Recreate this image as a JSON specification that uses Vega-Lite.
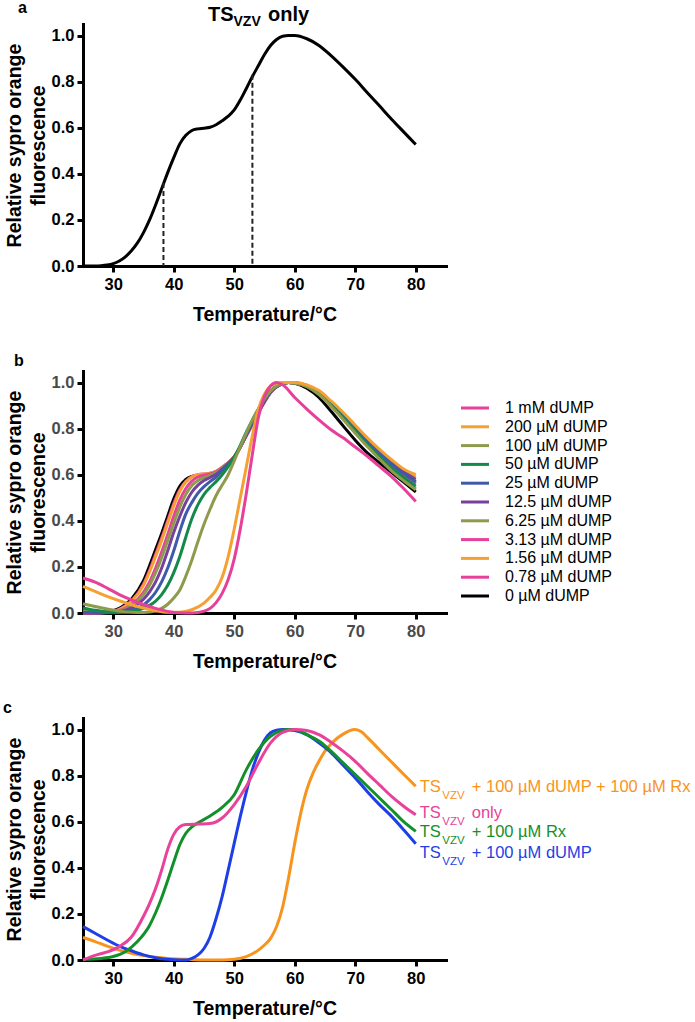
{
  "$schema": "https://vega.github.io/schema/vega-lite/v6.json",
  "padding": {"left": 3, "top": 0, "right": 5, "bottom": 5},
  "spacing": 105,
  "bounds": "flush",
  "config": {
    "view": {"stroke": null},
    "font": "Liberation Sans",
    "axis": {"domainColor": "black", "domainWidth": 3, "domainCap": "square", "tickColor": "black", "tickWidth": 3, "tickSize": 6, "grid": false,
      "labelFont": "Liberation Sans", "labelFontWeight": "bold", "labelFontSize": 16.5, "labelColor": "black", "labelPadding": 3,
      "titleFont": "Liberation Sans", "titleFontWeight": "bold", "titleFontSize": 19.5, "titleColor": "black"},
    "title": {"font": "Liberation Sans", "fontSize": 16, "fontWeight": "bold", "color": "black", "anchor": "start", "frame": "group"}
  },
  "resolve": {"scale": {"color": "independent"}, "legend": {"color": "independent"}},
  "datasets": {
    "a": [
      {"T":25,"v":0},{"T":26,"v":0},{"T":27,"v":0},{"T":28,"v":0.001},{"T":29,"v":0.004},{"T":30,"v":0.01},{"T":31,"v":0.022},{"T":32,"v":0.04},{"T":33,"v":0.066},{"T":34,"v":0.1},{"T":35,"v":0.145},{"T":36,"v":0.2},{"T":37,"v":0.265},{"T":38,"v":0.335},{"T":39,"v":0.405},{"T":40,"v":0.47},{"T":41,"v":0.53},{"T":42,"v":0.567},{"T":43,"v":0.588},{"T":44,"v":0.595},{"T":45,"v":0.598},{"T":46,"v":0.602},{"T":47,"v":0.613},{"T":48,"v":0.63},{"T":49,"v":0.65},{"T":50,"v":0.677},{"T":51,"v":0.72},{"T":52,"v":0.77},{"T":53,"v":0.822},{"T":54,"v":0.87},{"T":55,"v":0.918},{"T":56,"v":0.957},{"T":57,"v":0.983},{"T":58,"v":0.997},{"T":59,"v":1.0},{"T":60,"v":1.0},{"T":62,"v":0.986},{"T":64,"v":0.957},{"T":66,"v":0.913},{"T":68,"v":0.863},{"T":70,"v":0.81},{"T":72,"v":0.752},{"T":74,"v":0.695},{"T":76,"v":0.637},{"T":78,"v":0.582},{"T":80,"v":0.527}
    ],
    "adash": [{"T":38.3,"v":0.36},{"T":53,"v":0.83}],
    "atitle": [{"main":"TS","sub":"VZV","rest":"only"}],
    "b": [
      {"s":"0 µM dUMP","T":25,"v":0},{"s":"0 µM dUMP","T":27,"v":0},{"s":"0 µM dUMP","T":29,"v":0.004},{"s":"0 µM dUMP","T":31,"v":0.02},{"s":"0 µM dUMP","T":33,"v":0.06},{"s":"0 µM dUMP","T":35,"v":0.14},{"s":"0 µM dUMP","T":36,"v":0.205},{"s":"0 µM dUMP","T":37,"v":0.275},{"s":"0 µM dUMP","T":38,"v":0.345},{"s":"0 µM dUMP","T":39,"v":0.42},{"s":"0 µM dUMP","T":40,"v":0.495},{"s":"0 µM dUMP","T":41,"v":0.55},{"s":"0 µM dUMP","T":42,"v":0.58},{"s":"0 µM dUMP","T":43,"v":0.593},{"s":"0 µM dUMP","T":44,"v":0.598},{"s":"0 µM dUMP","T":46,"v":0.603},{"s":"0 µM dUMP","T":47,"v":0.613},{"s":"0 µM dUMP","T":48,"v":0.63},{"s":"0 µM dUMP","T":49,"v":0.65},{"s":"0 µM dUMP","T":50,"v":0.677},{"s":"0 µM dUMP","T":52,"v":0.77},{"s":"0 µM dUMP","T":54,"v":0.87},{"s":"0 µM dUMP","T":56,"v":0.957},{"s":"0 µM dUMP","T":58,"v":0.995},{"s":"0 µM dUMP","T":59,"v":1.0},{"s":"0 µM dUMP","T":60,"v":0.997},{"s":"0 µM dUMP","T":62,"v":0.975},{"s":"0 µM dUMP","T":64,"v":0.935},{"s":"0 µM dUMP","T":66,"v":0.875},{"s":"0 µM dUMP","T":68,"v":0.812},{"s":"0 µM dUMP","T":70,"v":0.75},{"s":"0 µM dUMP","T":72,"v":0.695},{"s":"0 µM dUMP","T":74,"v":0.652},{"s":"0 µM dUMP","T":76,"v":0.61},{"s":"0 µM dUMP","T":78,"v":0.568},{"s":"0 µM dUMP","T":80,"v":0.525},

      {"s":"0.78 µM dUMP","T":25,"v":0},{"s":"0.78 µM dUMP","T":27,"v":0},{"s":"0.78 µM dUMP","T":29,"v":0.003},{"s":"0.78 µM dUMP","T":31,"v":0.016},{"s":"0.78 µM dUMP","T":33,"v":0.052},{"s":"0.78 µM dUMP","T":35,"v":0.125},{"s":"0.78 µM dUMP","T":36,"v":0.185},{"s":"0.78 µM dUMP","T":37,"v":0.255},{"s":"0.78 µM dUMP","T":38,"v":0.325},{"s":"0.78 µM dUMP","T":39,"v":0.4},{"s":"0.78 µM dUMP","T":40,"v":0.475},{"s":"0.78 µM dUMP","T":41,"v":0.535},{"s":"0.78 µM dUMP","T":42,"v":0.572},{"s":"0.78 µM dUMP","T":43,"v":0.592},{"s":"0.78 µM dUMP","T":44,"v":0.6},{"s":"0.78 µM dUMP","T":46,"v":0.606},{"s":"0.78 µM dUMP","T":47,"v":0.615},{"s":"0.78 µM dUMP","T":48,"v":0.632},{"s":"0.78 µM dUMP","T":49,"v":0.652},{"s":"0.78 µM dUMP","T":50,"v":0.678},{"s":"0.78 µM dUMP","T":52,"v":0.77},{"s":"0.78 µM dUMP","T":54,"v":0.87},{"s":"0.78 µM dUMP","T":56,"v":0.957},{"s":"0.78 µM dUMP","T":58,"v":0.996},{"s":"0.78 µM dUMP","T":59,"v":1.0},{"s":"0.78 µM dUMP","T":60,"v":0.998},{"s":"0.78 µM dUMP","T":62,"v":0.985},{"s":"0.78 µM dUMP","T":64,"v":0.955},{"s":"0.78 µM dUMP","T":66,"v":0.907},{"s":"0.78 µM dUMP","T":68,"v":0.854},{"s":"0.78 µM dUMP","T":70,"v":0.796},{"s":"0.78 µM dUMP","T":72,"v":0.74},{"s":"0.78 µM dUMP","T":74,"v":0.688},{"s":"0.78 µM dUMP","T":76,"v":0.639},{"s":"0.78 µM dUMP","T":78,"v":0.597},{"s":"0.78 µM dUMP","T":80,"v":0.56},

      {"s":"1.56 µM dUMP","T":25,"v":0},{"s":"1.56 µM dUMP","T":27,"v":0},{"s":"1.56 µM dUMP","T":29,"v":0.003},{"s":"1.56 µM dUMP","T":31,"v":0.015},{"s":"1.56 µM dUMP","T":33,"v":0.05},{"s":"1.56 µM dUMP","T":35,"v":0.12},{"s":"1.56 µM dUMP","T":36,"v":0.178},{"s":"1.56 µM dUMP","T":37,"v":0.245},{"s":"1.56 µM dUMP","T":38,"v":0.315},{"s":"1.56 µM dUMP","T":39,"v":0.39},{"s":"1.56 µM dUMP","T":40,"v":0.465},{"s":"1.56 µM dUMP","T":41,"v":0.528},{"s":"1.56 µM dUMP","T":42,"v":0.568},{"s":"1.56 µM dUMP","T":43,"v":0.59},{"s":"1.56 µM dUMP","T":44,"v":0.6},{"s":"1.56 µM dUMP","T":46,"v":0.606},{"s":"1.56 µM dUMP","T":47,"v":0.615},{"s":"1.56 µM dUMP","T":48,"v":0.632},{"s":"1.56 µM dUMP","T":49,"v":0.652},{"s":"1.56 µM dUMP","T":50,"v":0.678},{"s":"1.56 µM dUMP","T":52,"v":0.77},{"s":"1.56 µM dUMP","T":54,"v":0.87},{"s":"1.56 µM dUMP","T":56,"v":0.957},{"s":"1.56 µM dUMP","T":58,"v":0.996},{"s":"1.56 µM dUMP","T":59,"v":1.0},{"s":"1.56 µM dUMP","T":60,"v":0.999},{"s":"1.56 µM dUMP","T":62,"v":0.988},{"s":"1.56 µM dUMP","T":64,"v":0.96},{"s":"1.56 µM dUMP","T":66,"v":0.915},{"s":"1.56 µM dUMP","T":68,"v":0.865},{"s":"1.56 µM dUMP","T":70,"v":0.81},{"s":"1.56 µM dUMP","T":72,"v":0.755},{"s":"1.56 µM dUMP","T":74,"v":0.705},{"s":"1.56 µM dUMP","T":76,"v":0.66},{"s":"1.56 µM dUMP","T":78,"v":0.622},{"s":"1.56 µM dUMP","T":80,"v":0.59},

      {"s":"3.13 µM dUMP","T":25,"v":0},{"s":"3.13 µM dUMP","T":27,"v":0},{"s":"3.13 µM dUMP","T":29,"v":0.002},{"s":"3.13 µM dUMP","T":31,"v":0.01},{"s":"3.13 µM dUMP","T":33,"v":0.035},{"s":"3.13 µM dUMP","T":35,"v":0.09},{"s":"3.13 µM dUMP","T":36,"v":0.135},{"s":"3.13 µM dUMP","T":37,"v":0.195},{"s":"3.13 µM dUMP","T":38,"v":0.265},{"s":"3.13 µM dUMP","T":39,"v":0.34},{"s":"3.13 µM dUMP","T":40,"v":0.42},{"s":"3.13 µM dUMP","T":41,"v":0.49},{"s":"3.13 µM dUMP","T":42,"v":0.54},{"s":"3.13 µM dUMP","T":43,"v":0.572},{"s":"3.13 µM dUMP","T":44,"v":0.59},{"s":"3.13 µM dUMP","T":45,"v":0.598},{"s":"3.13 µM dUMP","T":46,"v":0.603},{"s":"3.13 µM dUMP","T":47,"v":0.613},{"s":"3.13 µM dUMP","T":48,"v":0.63},{"s":"3.13 µM dUMP","T":49,"v":0.651},{"s":"3.13 µM dUMP","T":50,"v":0.677},{"s":"3.13 µM dUMP","T":52,"v":0.77},{"s":"3.13 µM dUMP","T":54,"v":0.87},{"s":"3.13 µM dUMP","T":56,"v":0.957},{"s":"3.13 µM dUMP","T":58,"v":0.996},{"s":"3.13 µM dUMP","T":59,"v":1.0},{"s":"3.13 µM dUMP","T":60,"v":0.998},{"s":"3.13 µM dUMP","T":62,"v":0.985},{"s":"3.13 µM dUMP","T":64,"v":0.956},{"s":"3.13 µM dUMP","T":66,"v":0.908},{"s":"3.13 µM dUMP","T":68,"v":0.856},{"s":"3.13 µM dUMP","T":70,"v":0.798},{"s":"3.13 µM dUMP","T":72,"v":0.742},{"s":"3.13 µM dUMP","T":74,"v":0.69},{"s":"3.13 µM dUMP","T":76,"v":0.642},{"s":"3.13 µM dUMP","T":78,"v":0.6},{"s":"3.13 µM dUMP","T":80,"v":0.565},

      {"s":"6.25 µM dUMP","T":25,"v":0.01},{"s":"6.25 µM dUMP","T":27,"v":0.005},{"s":"6.25 µM dUMP","T":29,"v":0.003},{"s":"6.25 µM dUMP","T":31,"v":0.008},{"s":"6.25 µM dUMP","T":33,"v":0.03},{"s":"6.25 µM dUMP","T":35,"v":0.08},{"s":"6.25 µM dUMP","T":36,"v":0.12},{"s":"6.25 µM dUMP","T":37,"v":0.175},{"s":"6.25 µM dUMP","T":38,"v":0.24},{"s":"6.25 µM dUMP","T":39,"v":0.315},{"s":"6.25 µM dUMP","T":40,"v":0.39},{"s":"6.25 µM dUMP","T":41,"v":0.46},{"s":"6.25 µM dUMP","T":42,"v":0.515},{"s":"6.25 µM dUMP","T":43,"v":0.553},{"s":"6.25 µM dUMP","T":44,"v":0.575},{"s":"6.25 µM dUMP","T":45,"v":0.588},{"s":"6.25 µM dUMP","T":46,"v":0.597},{"s":"6.25 µM dUMP","T":47,"v":0.609},{"s":"6.25 µM dUMP","T":48,"v":0.628},{"s":"6.25 µM dUMP","T":49,"v":0.65},{"s":"6.25 µM dUMP","T":50,"v":0.677},{"s":"6.25 µM dUMP","T":52,"v":0.772},{"s":"6.25 µM dUMP","T":54,"v":0.872},{"s":"6.25 µM dUMP","T":56,"v":0.958},{"s":"6.25 µM dUMP","T":58,"v":0.996},{"s":"6.25 µM dUMP","T":59,"v":1.0},{"s":"6.25 µM dUMP","T":60,"v":0.998},{"s":"6.25 µM dUMP","T":62,"v":0.983},{"s":"6.25 µM dUMP","T":64,"v":0.95},{"s":"6.25 µM dUMP","T":66,"v":0.9},{"s":"6.25 µM dUMP","T":68,"v":0.845},{"s":"6.25 µM dUMP","T":70,"v":0.786},{"s":"6.25 µM dUMP","T":72,"v":0.728},{"s":"6.25 µM dUMP","T":74,"v":0.674},{"s":"6.25 µM dUMP","T":76,"v":0.623},{"s":"6.25 µM dUMP","T":78,"v":0.58},{"s":"6.25 µM dUMP","T":80,"v":0.54},

      {"s":"12.5 µM dUMP","T":25,"v":0},{"s":"12.5 µM dUMP","T":27,"v":0},{"s":"12.5 µM dUMP","T":29,"v":0.002},{"s":"12.5 µM dUMP","T":31,"v":0.006},{"s":"12.5 µM dUMP","T":33,"v":0.022},{"s":"12.5 µM dUMP","T":35,"v":0.06},{"s":"12.5 µM dUMP","T":36,"v":0.092},{"s":"12.5 µM dUMP","T":37,"v":0.135},{"s":"12.5 µM dUMP","T":38,"v":0.195},{"s":"12.5 µM dUMP","T":39,"v":0.27},{"s":"12.5 µM dUMP","T":40,"v":0.35},{"s":"12.5 µM dUMP","T":41,"v":0.42},{"s":"12.5 µM dUMP","T":42,"v":0.48},{"s":"12.5 µM dUMP","T":43,"v":0.525},{"s":"12.5 µM dUMP","T":44,"v":0.555},{"s":"12.5 µM dUMP","T":45,"v":0.575},{"s":"12.5 µM dUMP","T":46,"v":0.588},{"s":"12.5 µM dUMP","T":47,"v":0.602},{"s":"12.5 µM dUMP","T":48,"v":0.624},{"s":"12.5 µM dUMP","T":49,"v":0.648},{"s":"12.5 µM dUMP","T":50,"v":0.676},{"s":"12.5 µM dUMP","T":52,"v":0.772},{"s":"12.5 µM dUMP","T":54,"v":0.872},{"s":"12.5 µM dUMP","T":56,"v":0.958},{"s":"12.5 µM dUMP","T":58,"v":0.996},{"s":"12.5 µM dUMP","T":59,"v":1.0},{"s":"12.5 µM dUMP","T":60,"v":0.999},{"s":"12.5 µM dUMP","T":62,"v":0.987},{"s":"12.5 µM dUMP","T":64,"v":0.958},{"s":"12.5 µM dUMP","T":66,"v":0.913},{"s":"12.5 µM dUMP","T":68,"v":0.862},{"s":"12.5 µM dUMP","T":70,"v":0.805},{"s":"12.5 µM dUMP","T":72,"v":0.75},{"s":"12.5 µM dUMP","T":74,"v":0.7},{"s":"12.5 µM dUMP","T":76,"v":0.653},{"s":"12.5 µM dUMP","T":78,"v":0.613},{"s":"12.5 µM dUMP","T":80,"v":0.58},

      {"s":"25 µM dUMP","T":25,"v":0.003},{"s":"25 µM dUMP","T":27,"v":0.001},{"s":"25 µM dUMP","T":29,"v":0.001},{"s":"25 µM dUMP","T":31,"v":0.003},{"s":"25 µM dUMP","T":33,"v":0.012},{"s":"25 µM dUMP","T":35,"v":0.035},{"s":"25 µM dUMP","T":36,"v":0.058},{"s":"25 µM dUMP","T":37,"v":0.09},{"s":"25 µM dUMP","T":38,"v":0.135},{"s":"25 µM dUMP","T":39,"v":0.195},{"s":"25 µM dUMP","T":40,"v":0.27},{"s":"25 µM dUMP","T":41,"v":0.355},{"s":"25 µM dUMP","T":42,"v":0.43},{"s":"25 µM dUMP","T":43,"v":0.48},{"s":"25 µM dUMP","T":44,"v":0.52},{"s":"25 µM dUMP","T":45,"v":0.548},{"s":"25 µM dUMP","T":46,"v":0.57},{"s":"25 µM dUMP","T":47,"v":0.59},{"s":"25 µM dUMP","T":48,"v":0.617},{"s":"25 µM dUMP","T":49,"v":0.645},{"s":"25 µM dUMP","T":50,"v":0.676},{"s":"25 µM dUMP","T":52,"v":0.775},{"s":"25 µM dUMP","T":54,"v":0.876},{"s":"25 µM dUMP","T":56,"v":0.96},{"s":"25 µM dUMP","T":58,"v":0.996},{"s":"25 µM dUMP","T":59,"v":1.0},{"s":"25 µM dUMP","T":60,"v":0.999},{"s":"25 µM dUMP","T":62,"v":0.986},{"s":"25 µM dUMP","T":64,"v":0.957},{"s":"25 µM dUMP","T":66,"v":0.91},{"s":"25 µM dUMP","T":68,"v":0.858},{"s":"25 µM dUMP","T":70,"v":0.8},{"s":"25 µM dUMP","T":72,"v":0.745},{"s":"25 µM dUMP","T":74,"v":0.694},{"s":"25 µM dUMP","T":76,"v":0.646},{"s":"25 µM dUMP","T":78,"v":0.605},{"s":"25 µM dUMP","T":80,"v":0.57},

      {"s":"50 µM dUMP","T":25,"v":0.022},{"s":"50 µM dUMP","T":27,"v":0.012},{"s":"50 µM dUMP","T":29,"v":0.005},{"s":"50 µM dUMP","T":31,"v":0.003},{"s":"50 µM dUMP","T":33,"v":0.007},{"s":"50 µM dUMP","T":35,"v":0.02},{"s":"50 µM dUMP","T":36,"v":0.033},{"s":"50 µM dUMP","T":37,"v":0.052},{"s":"50 µM dUMP","T":38,"v":0.08},{"s":"50 µM dUMP","T":39,"v":0.12},{"s":"50 µM dUMP","T":40,"v":0.175},{"s":"50 µM dUMP","T":41,"v":0.245},{"s":"50 µM dUMP","T":42,"v":0.33},{"s":"50 µM dUMP","T":43,"v":0.41},{"s":"50 µM dUMP","T":44,"v":0.47},{"s":"50 µM dUMP","T":45,"v":0.515},{"s":"50 µM dUMP","T":46,"v":0.545},{"s":"50 µM dUMP","T":47,"v":0.57},{"s":"50 µM dUMP","T":48,"v":0.6},{"s":"50 µM dUMP","T":49,"v":0.635},{"s":"50 µM dUMP","T":50,"v":0.675},{"s":"50 µM dUMP","T":52,"v":0.785},{"s":"50 µM dUMP","T":54,"v":0.885},{"s":"50 µM dUMP","T":56,"v":0.963},{"s":"50 µM dUMP","T":58,"v":0.997},{"s":"50 µM dUMP","T":59,"v":1.0},{"s":"50 µM dUMP","T":60,"v":0.998},{"s":"50 µM dUMP","T":62,"v":0.984},{"s":"50 µM dUMP","T":64,"v":0.952},{"s":"50 µM dUMP","T":66,"v":0.903},{"s":"50 µM dUMP","T":68,"v":0.849},{"s":"50 µM dUMP","T":70,"v":0.79},{"s":"50 µM dUMP","T":72,"v":0.733},{"s":"50 µM dUMP","T":74,"v":0.68},{"s":"50 µM dUMP","T":76,"v":0.63},{"s":"50 µM dUMP","T":78,"v":0.588},{"s":"50 µM dUMP","T":80,"v":0.55},

      {"s":"100 µM dUMP","T":25,"v":0.04},{"s":"100 µM dUMP","T":27,"v":0.028},{"s":"100 µM dUMP","T":29,"v":0.017},{"s":"100 µM dUMP","T":31,"v":0.008},{"s":"100 µM dUMP","T":33,"v":0.003},{"s":"100 µM dUMP","T":35,"v":0.002},{"s":"100 µM dUMP","T":36,"v":0.004},{"s":"100 µM dUMP","T":37,"v":0.01},{"s":"100 µM dUMP","T":38,"v":0.02},{"s":"100 µM dUMP","T":39,"v":0.038},{"s":"100 µM dUMP","T":40,"v":0.065},{"s":"100 µM dUMP","T":41,"v":0.1},{"s":"100 µM dUMP","T":42,"v":0.16},{"s":"100 µM dUMP","T":43,"v":0.23},{"s":"100 µM dUMP","T":44,"v":0.31},{"s":"100 µM dUMP","T":45,"v":0.385},{"s":"100 µM dUMP","T":46,"v":0.45},{"s":"100 µM dUMP","T":47,"v":0.51},{"s":"100 µM dUMP","T":48,"v":0.555},{"s":"100 µM dUMP","T":49,"v":0.6},{"s":"100 µM dUMP","T":50,"v":0.66},{"s":"100 µM dUMP","T":51,"v":0.722},{"s":"100 µM dUMP","T":52,"v":0.782},{"s":"100 µM dUMP","T":53,"v":0.838},{"s":"100 µM dUMP","T":54,"v":0.886},{"s":"100 µM dUMP","T":56,"v":0.963},{"s":"100 µM dUMP","T":58,"v":0.997},{"s":"100 µM dUMP","T":59,"v":1.0},{"s":"100 µM dUMP","T":60,"v":0.998},{"s":"100 µM dUMP","T":62,"v":0.982},{"s":"100 µM dUMP","T":64,"v":0.948},{"s":"100 µM dUMP","T":66,"v":0.897},{"s":"100 µM dUMP","T":68,"v":0.84},{"s":"100 µM dUMP","T":70,"v":0.78},{"s":"100 µM dUMP","T":72,"v":0.722},{"s":"100 µM dUMP","T":74,"v":0.668},{"s":"100 µM dUMP","T":76,"v":0.617},{"s":"100 µM dUMP","T":78,"v":0.574},{"s":"100 µM dUMP","T":80,"v":0.535},

      {"s":"200 µM dUMP","T":25,"v":0.116},{"s":"200 µM dUMP","T":27,"v":0.094},{"s":"200 µM dUMP","T":29,"v":0.072},{"s":"200 µM dUMP","T":31,"v":0.053},{"s":"200 µM dUMP","T":33,"v":0.036},{"s":"200 µM dUMP","T":35,"v":0.022},{"s":"200 µM dUMP","T":37,"v":0.01},{"s":"200 µM dUMP","T":39,"v":0.003},{"s":"200 µM dUMP","T":41,"v":0.003},{"s":"200 µM dUMP","T":43,"v":0.014},{"s":"200 µM dUMP","T":45,"v":0.043},{"s":"200 µM dUMP","T":46,"v":0.068},{"s":"200 µM dUMP","T":47,"v":0.1},{"s":"200 µM dUMP","T":48,"v":0.155},{"s":"200 µM dUMP","T":49,"v":0.245},{"s":"200 µM dUMP","T":50,"v":0.365},{"s":"200 µM dUMP","T":51,"v":0.5},{"s":"200 µM dUMP","T":52,"v":0.635},{"s":"200 µM dUMP","T":53,"v":0.77},{"s":"200 µM dUMP","T":54,"v":0.885},{"s":"200 µM dUMP","T":55,"v":0.95},{"s":"200 µM dUMP","T":56,"v":0.985},{"s":"200 µM dUMP","T":57,"v":0.997},{"s":"200 µM dUMP","T":58,"v":1.0},{"s":"200 µM dUMP","T":60,"v":1.0},{"s":"200 µM dUMP","T":62,"v":0.99},{"s":"200 µM dUMP","T":64,"v":0.965},{"s":"200 µM dUMP","T":66,"v":0.92},{"s":"200 µM dUMP","T":68,"v":0.87},{"s":"200 µM dUMP","T":70,"v":0.815},{"s":"200 µM dUMP","T":72,"v":0.76},{"s":"200 µM dUMP","T":74,"v":0.71},{"s":"200 µM dUMP","T":76,"v":0.665},{"s":"200 µM dUMP","T":78,"v":0.625},{"s":"200 µM dUMP","T":80,"v":0.6},

      {"s":"1 mM dUMP","T":25,"v":0.152},{"s":"1 mM dUMP","T":27,"v":0.134},{"s":"1 mM dUMP","T":29,"v":0.108},{"s":"1 mM dUMP","T":31,"v":0.08},{"s":"1 mM dUMP","T":33,"v":0.057},{"s":"1 mM dUMP","T":35,"v":0.037},{"s":"1 mM dUMP","T":37,"v":0.02},{"s":"1 mM dUMP","T":39,"v":0.007},{"s":"1 mM dUMP","T":41,"v":0.001},{"s":"1 mM dUMP","T":43,"v":0},{"s":"1 mM dUMP","T":44,"v":0.002},{"s":"1 mM dUMP","T":45,"v":0.008},{"s":"1 mM dUMP","T":46,"v":0.02},{"s":"1 mM dUMP","T":47,"v":0.045},{"s":"1 mM dUMP","T":48,"v":0.085},{"s":"1 mM dUMP","T":49,"v":0.145},{"s":"1 mM dUMP","T":50,"v":0.235},{"s":"1 mM dUMP","T":51,"v":0.365},{"s":"1 mM dUMP","T":52,"v":0.52},{"s":"1 mM dUMP","T":53,"v":0.69},{"s":"1 mM dUMP","T":54,"v":0.85},{"s":"1 mM dUMP","T":55,"v":0.94},{"s":"1 mM dUMP","T":56,"v":0.985},{"s":"1 mM dUMP","T":57,"v":1.0},{"s":"1 mM dUMP","T":58,"v":0.99},{"s":"1 mM dUMP","T":60,"v":0.935},{"s":"1 mM dUMP","T":62,"v":0.885},{"s":"1 mM dUMP","T":64,"v":0.838},{"s":"1 mM dUMP","T":66,"v":0.795},{"s":"1 mM dUMP","T":68,"v":0.76},{"s":"1 mM dUMP","T":70,"v":0.72},{"s":"1 mM dUMP","T":72,"v":0.68},{"s":"1 mM dUMP","T":74,"v":0.636},{"s":"1 mM dUMP","T":76,"v":0.592},{"s":"1 mM dUMP","T":78,"v":0.54},{"s":"1 mM dUMP","T":80,"v":0.484}
    ],
    "c": [
      {"sc":"dUMP+Rx","T":25,"v":0.098},{"sc":"dUMP+Rx","T":27,"v":0.08},{"sc":"dUMP+Rx","T":29,"v":0.06},{"sc":"dUMP+Rx","T":31,"v":0.043},{"sc":"dUMP+Rx","T":33,"v":0.029},{"sc":"dUMP+Rx","T":35,"v":0.019},{"sc":"dUMP+Rx","T":37,"v":0.012},{"sc":"dUMP+Rx","T":39,"v":0.007},{"sc":"dUMP+Rx","T":42,"v":0.003},{"sc":"dUMP+Rx","T":45,"v":0},{"sc":"dUMP+Rx","T":48,"v":0},{"sc":"dUMP+Rx","T":50,"v":0.003},{"sc":"dUMP+Rx","T":52,"v":0.015},{"sc":"dUMP+Rx","T":54,"v":0.043},{"sc":"dUMP+Rx","T":55,"v":0.065},{"sc":"dUMP+Rx","T":56,"v":0.094},{"sc":"dUMP+Rx","T":57,"v":0.145},{"sc":"dUMP+Rx","T":58,"v":0.23},{"sc":"dUMP+Rx","T":59,"v":0.36},{"sc":"dUMP+Rx","T":60,"v":0.507},{"sc":"dUMP+Rx","T":61,"v":0.638},{"sc":"dUMP+Rx","T":62,"v":0.74},{"sc":"dUMP+Rx","T":63,"v":0.81},{"sc":"dUMP+Rx","T":64,"v":0.862},{"sc":"dUMP+Rx","T":65,"v":0.906},{"sc":"dUMP+Rx","T":66,"v":0.937},{"sc":"dUMP+Rx","T":67,"v":0.962},{"sc":"dUMP+Rx","T":68,"v":0.98},{"sc":"dUMP+Rx","T":69,"v":0.994},{"sc":"dUMP+Rx","T":70,"v":1.0},{"sc":"dUMP+Rx","T":71,"v":0.99},{"sc":"dUMP+Rx","T":72,"v":0.966},{"sc":"dUMP+Rx","T":74,"v":0.912},{"sc":"dUMP+Rx","T":76,"v":0.859},{"sc":"dUMP+Rx","T":78,"v":0.806},{"sc":"dUMP+Rx","T":80,"v":0.754},

      {"sc":"dUMP","T":25,"v":0.145},{"sc":"dUMP","T":27,"v":0.116},{"sc":"dUMP","T":29,"v":0.087},{"sc":"dUMP","T":31,"v":0.06},{"sc":"dUMP","T":33,"v":0.04},{"sc":"dUMP","T":35,"v":0.022},{"sc":"dUMP","T":37,"v":0.01},{"sc":"dUMP","T":39,"v":0.003},{"sc":"dUMP","T":41,"v":0},{"sc":"dUMP","T":42,"v":0},{"sc":"dUMP","T":43,"v":0.007},{"sc":"dUMP","T":44,"v":0.022},{"sc":"dUMP","T":45,"v":0.05},{"sc":"dUMP","T":46,"v":0.1},{"sc":"dUMP","T":47,"v":0.18},{"sc":"dUMP","T":48,"v":0.275},{"sc":"dUMP","T":49,"v":0.39},{"sc":"dUMP","T":50,"v":0.507},{"sc":"dUMP","T":51,"v":0.623},{"sc":"dUMP","T":52,"v":0.73},{"sc":"dUMP","T":53,"v":0.826},{"sc":"dUMP","T":54,"v":0.9},{"sc":"dUMP","T":55,"v":0.954},{"sc":"dUMP","T":56,"v":0.986},{"sc":"dUMP","T":57,"v":0.997},{"sc":"dUMP","T":58,"v":1.0},{"sc":"dUMP","T":60,"v":0.996},{"sc":"dUMP","T":62,"v":0.978},{"sc":"dUMP","T":64,"v":0.942},{"sc":"dUMP","T":66,"v":0.9},{"sc":"dUMP","T":68,"v":0.845},{"sc":"dUMP","T":70,"v":0.79},{"sc":"dUMP","T":72,"v":0.73},{"sc":"dUMP","T":74,"v":0.674},{"sc":"dUMP","T":76,"v":0.623},{"sc":"dUMP","T":78,"v":0.565},{"sc":"dUMP","T":80,"v":0.504},

      {"sc":"Rx","T":25,"v":0.003},{"sc":"Rx","T":28,"v":0.007},{"sc":"Rx","T":30,"v":0.015},{"sc":"Rx","T":32,"v":0.036},{"sc":"Rx","T":34,"v":0.08},{"sc":"Rx","T":36,"v":0.15},{"sc":"Rx","T":37,"v":0.205},{"sc":"Rx","T":38,"v":0.27},{"sc":"Rx","T":39,"v":0.345},{"sc":"Rx","T":40,"v":0.425},{"sc":"Rx","T":41,"v":0.5},{"sc":"Rx","T":42,"v":0.55},{"sc":"Rx","T":43,"v":0.578},{"sc":"Rx","T":44,"v":0.595},{"sc":"Rx","T":46,"v":0.625},{"sc":"Rx","T":48,"v":0.662},{"sc":"Rx","T":50,"v":0.717},{"sc":"Rx","T":52,"v":0.826},{"sc":"Rx","T":54,"v":0.913},{"sc":"Rx","T":56,"v":0.971},{"sc":"Rx","T":58,"v":0.997},{"sc":"Rx","T":59,"v":1.0},{"sc":"Rx","T":60,"v":0.999},{"sc":"Rx","T":62,"v":0.978},{"sc":"Rx","T":64,"v":0.95},{"sc":"Rx","T":66,"v":0.906},{"sc":"Rx","T":68,"v":0.855},{"sc":"Rx","T":70,"v":0.804},{"sc":"Rx","T":72,"v":0.754},{"sc":"Rx","T":74,"v":0.703},{"sc":"Rx","T":76,"v":0.652},{"sc":"Rx","T":78,"v":0.6},{"sc":"Rx","T":80,"v":0.558},

      {"sc":"only","T":25,"v":0},{"sc":"only","T":27,"v":0.02},{"sc":"only","T":29,"v":0.035},{"sc":"only","T":31,"v":0.058},{"sc":"only","T":33,"v":0.1},{"sc":"only","T":35,"v":0.19},{"sc":"only","T":36,"v":0.245},{"sc":"only","T":37,"v":0.31},{"sc":"only","T":38,"v":0.39},{"sc":"only","T":39,"v":0.48},{"sc":"only","T":40,"v":0.545},{"sc":"only","T":41,"v":0.578},{"sc":"only","T":42,"v":0.588},{"sc":"only","T":44,"v":0.59},{"sc":"only","T":46,"v":0.592},{"sc":"only","T":48,"v":0.616},{"sc":"only","T":50,"v":0.674},{"sc":"only","T":52,"v":0.754},{"sc":"only","T":54,"v":0.855},{"sc":"only","T":56,"v":0.942},{"sc":"only","T":58,"v":0.988},{"sc":"only","T":60,"v":1.0},{"sc":"only","T":62,"v":0.996},{"sc":"only","T":64,"v":0.978},{"sc":"only","T":66,"v":0.945},{"sc":"only","T":68,"v":0.906},{"sc":"only","T":70,"v":0.862},{"sc":"only","T":72,"v":0.81},{"sc":"only","T":74,"v":0.76},{"sc":"only","T":76,"v":0.71},{"sc":"only","T":78,"v":0.667},{"sc":"only","T":80,"v":0.63}
    ],
    "clab": [
      {"sc":"dUMP+Rx","T":80,"v":0.754,"rest":"+ 100 µM dUMP + 100 µM Rx"},
      {"sc":"only","T":80,"v":0.64,"rest":"only"},
      {"sc":"Rx","T":80,"v":0.558,"rest":"+ 100 µM Rx"},
      {"sc":"dUMP","T":80,"v":0.47,"rest":"+ 100 µM dUMP"}
    ]
  },
  "vconcat": [
    {
      "width": 363, "height": 242,
      "title": {"text": "a", "dx": -65, "offset": -11},
      "layer": [
        {"data": {"name": "a"}, "mark": {"type": "line", "color": "black", "strokeWidth": 3, "interpolate": "monotone"},
          "encoding": {
            "x": {"field": "T", "type": "quantitative", "scale": {"domain": [25, 85], "nice": false, "zero": false},
              "axis": {"values": [30, 40, 50, 60, 70, 80], "title": "Temperature/°C", "titlePadding": 13, "labelPadding": 4}},
            "y": {"field": "v", "type": "quantitative", "scale": {"domain": [0, 1.05], "nice": false},
              "axis": {"values": [0, 0.2, 0.4, 0.6, 0.8, 1], "format": ".1f", "title": ["Relative sypro orange", "fluorescence"], "titlePadding": 3, "titleLineHeight": 24}}
          }},
        {"data": {"name": "adash"}, "mark": {"type": "rule", "strokeDash": [5, 3], "strokeWidth": 2, "color": "#222222"},
          "encoding": {"x": {"field": "T", "type": "quantitative"}, "y": {"field": "v", "type": "quantitative"}, "y2": {"datum": 0}}},
        {"data": {"name": "atitle"}, "mark": {"type": "text", "align": "left", "baseline": "alphabetic", "fontSize": 20, "fontWeight": "bold", "color": "black"},
          "encoding": {"x": {"datum": 45.66, "type": "quantitative"}, "y": {"datum": 1.063, "type": "quantitative"}, "text": {"field": "main"}}},
        {"data": {"name": "atitle"}, "mark": {"type": "text", "align": "left", "baseline": "alphabetic", "fontSize": 14, "fontWeight": "bold", "color": "black", "dx": 25.5, "dy": 5},
          "encoding": {"x": {"datum": 45.66, "type": "quantitative"}, "y": {"datum": 1.063, "type": "quantitative"}, "text": {"field": "sub"}}},
        {"data": {"name": "atitle"}, "mark": {"type": "text", "align": "left", "baseline": "alphabetic", "fontSize": 20, "fontWeight": "bold", "color": "black", "dx": 60},
          "encoding": {"x": {"datum": 45.66, "type": "quantitative"}, "y": {"datum": 1.063, "type": "quantitative"}, "text": {"field": "rest"}}}
      ]
    },
    {
      "width": 363, "height": 242,
      "title": {"text": "b", "dx": -69, "offset": 2},
      "data": {"name": "b"},
      "mark": {"type": "line", "strokeWidth": 3, "interpolate": "monotone"},
      "encoding": {
        "x": {"field": "T", "type": "quantitative", "scale": {"domain": [25, 85], "nice": false, "zero": false},
          "axis": {"values": [30, 40, 50, 60, 70, 80], "title": "Temperature/°C", "titlePadding": 13, "labelPadding": 4, "labelColor": "#4a4a4a"}},
        "y": {"field": "v", "type": "quantitative", "scale": {"domain": [0, 1.05], "nice": false},
          "axis": {"values": [0, 0.2, 0.4, 0.6, 0.8, 1], "format": ".1f", "title": ["Relative sypro orange", "fluorescence"], "titlePadding": 3, "titleLineHeight": 24, "labelColor": "#4a4a4a"}},
        "color": {"field": "s", "type": "nominal",
          "scale": {"domain": ["1 mM dUMP", "200 µM dUMP", "100 µM dUMP", "50 µM dUMP", "25 µM dUMP", "12.5 µM dUMP", "6.25 µM dUMP", "3.13 µM dUMP", "1.56 µM dUMP", "0.78 µM dUMP", "0 µM dUMP"],
            "range": ["#e6409a", "#f5a033", "#8e9a4c", "#13894b", "#3f5aa8", "#77409b", "#8e9a4c", "#e6409a", "#f5a033", "#e6409a", "#000000"]},
          "legend": {"title": null, "orient": "right", "offset": -8, "padding": 29, "symbolType": "M-2.8,0H2.8", "symbolSize": 100, "symbolStrokeWidth": 3,
            "labelFont": "Liberation Sans", "labelFontSize": 16, "labelColor": "black", "labelOffset": 22, "rowPadding": 2.8, "labelLimit": 300}}
      }
    },
    {
      "width": 363, "height": 242,
      "title": {"text": "c", "dx": -80, "offset": 2},
      "encoding": {
        "x": {"field": "T", "type": "quantitative", "scale": {"domain": [25, 85], "nice": false, "zero": false},
          "axis": {"values": [30, 40, 50, 60, 70, 80], "title": "Temperature/°C", "titlePadding": 13, "labelPadding": 4}},
        "y": {"field": "v", "type": "quantitative", "scale": {"domain": [0, 1.05], "nice": false},
          "axis": {"values": [0, 0.2, 0.4, 0.6, 0.8, 1], "format": ".1f", "title": ["Relative sypro orange", "fluorescence"], "titlePadding": 3, "titleLineHeight": 24}},
        "color": {"field": "sc", "type": "nominal",
          "scale": {"domain": ["dUMP+Rx", "only", "Rx", "dUMP"], "range": ["#f7941e", "#e8429a", "#14902a", "#1f3fe6"]}, "legend": null}
      },
      "layer": [
        {"data": {"name": "c"}, "mark": {"type": "line", "strokeWidth": 3, "interpolate": "monotone"}},
        {"data": {"name": "clab"}, "mark": {"type": "text", "text": "TS", "align": "left", "baseline": "alphabetic", "fontSize": 16.5, "dx": 4, "dy": 6}},
        {"data": {"name": "clab"}, "mark": {"type": "text", "text": "VZV", "align": "left", "baseline": "alphabetic", "fontSize": 11.5, "dx": 26.5, "dy": 13}},
        {"data": {"name": "clab"}, "mark": {"type": "text", "align": "left", "baseline": "alphabetic", "fontSize": 16.5, "dx": 56, "dy": 6},
          "encoding": {"text": {"field": "rest"}}}
      ]
    }
  ]
}
